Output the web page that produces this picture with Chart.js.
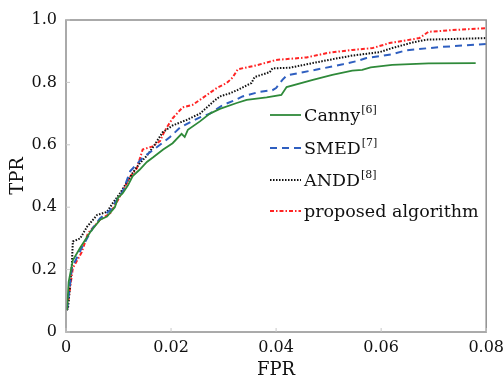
<!DOCTYPE html>
<html>
<head>
<meta charset="utf-8">
<script src="https://cdn.jsdelivr.net/npm/chart.js@4"></script>
<style>
  html, body { margin: 0; padding: 0; background: #fff; }
  #box { width: 504px; height: 379px; }
</style>
</head>
<body>
<div id="box"><canvas id="rocChart"></canvas></div>
<script>
// values
var cannyX = [0.0002, 0.0005, 0.0013, 0.0027, 0.0046, 0.0065, 0.0078, 0.0093, 0.0099, 0.0108, 0.0118, 0.0127, 0.014, 0.0154, 0.0166, 0.0185, 0.0203, 0.022, 0.0226, 0.0232, 0.0255, 0.0274, 0.0293, 0.0325, 0.0344, 0.0382, 0.041, 0.042, 0.047, 0.0507, 0.0545, 0.0564, 0.058, 0.0621, 0.069, 0.078];
var cannyY = [0.07, 0.16, 0.23, 0.27, 0.32, 0.36, 0.37, 0.40, 0.43, 0.445, 0.47, 0.50, 0.52, 0.545, 0.56, 0.585, 0.605, 0.635, 0.625, 0.648, 0.675, 0.70, 0.715, 0.734, 0.744, 0.752, 0.76, 0.785, 0.808, 0.824, 0.838, 0.84, 0.848, 0.856, 0.861, 0.862];

var smedX = [0.0002, 0.0011, 0.003, 0.0051, 0.0065, 0.0084, 0.0103, 0.0108, 0.0122, 0.0147, 0.0179, 0.0198, 0.0217, 0.0236, 0.0255, 0.0274, 0.0298, 0.0323, 0.0336, 0.0369, 0.0393, 0.040, 0.0412, 0.042, 0.0443, 0.048, 0.0527, 0.0553, 0.0572, 0.0621, 0.0648, 0.071, 0.08];
var smedY = [0.07, 0.205, 0.27, 0.333, 0.365, 0.39, 0.44, 0.45, 0.515, 0.56, 0.60, 0.625, 0.655, 0.672, 0.688, 0.70, 0.727, 0.744, 0.755, 0.77, 0.775, 0.782, 0.808, 0.822, 0.83, 0.842, 0.858, 0.868, 0.878, 0.89, 0.903, 0.913, 0.923];

var anddX = [0.0002, 0.0004, 0.0011, 0.0013, 0.0027, 0.004, 0.0059, 0.0078, 0.0089, 0.0103, 0.0116, 0.0127, 0.014, 0.0154, 0.0166, 0.0184, 0.0203, 0.023, 0.0255, 0.028, 0.0293, 0.0312, 0.0327, 0.0353, 0.0359, 0.0388, 0.0393, 0.0426, 0.0458, 0.050, 0.0545, 0.0597, 0.0621, 0.066, 0.0686, 0.08];
var anddY = [0.07, 0.08, 0.21, 0.29, 0.30, 0.337, 0.375, 0.385, 0.413, 0.445, 0.48, 0.51, 0.54, 0.565, 0.593, 0.64, 0.662, 0.68, 0.70, 0.738, 0.755, 0.765, 0.776, 0.798, 0.817, 0.833, 0.845, 0.847, 0.858, 0.872, 0.886, 0.897, 0.91, 0.928, 0.937, 0.942];

var propX = [0.0002, 0.0013, 0.003, 0.0042, 0.0065, 0.0084, 0.0099, 0.0112, 0.0122, 0.0135, 0.0146, 0.0165, 0.0179, 0.0188, 0.0203, 0.0222, 0.0241, 0.026, 0.0287, 0.0306, 0.0317, 0.0327, 0.0363, 0.040, 0.0458, 0.050, 0.0545, 0.0584, 0.0616, 0.0673, 0.069, 0.073, 0.08];
var propY = [0.07, 0.205, 0.256, 0.317, 0.36, 0.38, 0.423, 0.465, 0.497, 0.525, 0.585, 0.595, 0.612, 0.645, 0.685, 0.72, 0.728, 0.75, 0.782, 0.798, 0.815, 0.842, 0.855, 0.872, 0.88, 0.895, 0.904, 0.91, 0.926, 0.942, 0.962, 0.967, 0.974];

var legendNames = ['Canny', 'SMED', 'ANDD', 'proposed algorithm'];
var legendRefs = ['[6]', '[7]', '[8]', ''];
var xTickLabels = ['0', '0.02', '0.04', '0.06', '0.08'];
var yTickLabels = ['0', '0.2', '0.4', '0.6', '0.8', '1.0'];

var serif = "'DejaVu Serif', serif";

//zip two arrays into x/y points
function toPoints(xs, ys) {
	var pts = [];
	for (var i = 0; i < xs.length; i++) {
		pts.push({x: xs[i], y: ys[i]});
	}
	return pts;
}

//box around the plot, inward ticks and the legend with its superscripts
var framePlugin = {
	id: 'frame',
	afterDraw: function (chart) {
		var ctx = chart.ctx;
		var a = chart.chartArea;
		var xs = chart.scales.x, ys = chart.scales.y;
		ctx.save();
		ctx.strokeStyle = '#8f8f8f';
		ctx.lineWidth = 1.5;
		ctx.strokeRect(a.left, a.top, a.right - a.left, a.bottom - a.top);
		ctx.lineWidth = 1;
		ctx.strokeStyle = '#c8c8c8';
		ctx.beginPath();
		xs.ticks.forEach(function (t) {
			var px = xs.getPixelForValue(t.value);
			ctx.moveTo(px, a.bottom); ctx.lineTo(px, a.bottom - 4);
		});
		ys.ticks.forEach(function (t) {
			var py = ys.getPixelForValue(t.value);
			ctx.moveTo(a.left, py); ctx.lineTo(a.left + 4, py);
		});
		ctx.stroke();

		// legend
		var rowY = [115, 148, 180, 211];
		chart.data.datasets.forEach(function (ds, i) {
			var y = rowY[i];
			ctx.strokeStyle = ds.borderColor;
			ctx.lineWidth = ds.borderWidth;
			ctx.setLineDash(ds.borderDash || []);
			ctx.beginPath();
			ctx.moveTo(270, y); ctx.lineTo(301, y);
			ctx.stroke();
			ctx.setLineDash([]);
			ctx.fillStyle = '#111';
			ctx.textBaseline = 'middle';
			ctx.textAlign = 'left';
			ctx.font = '17.5px ' + serif;
			ctx.fillText(legendNames[i], 304, y + 1);
			if (legendRefs[i]) {
				var w = ctx.measureText(legendNames[i]).width;
				ctx.font = '11px ' + serif;
				ctx.fillText(legendRefs[i], 304 + w + 1, y - 5);
			}
		});
		ctx.restore();
	}
};

new Chart(document.getElementById('rocChart'), {
	type: 'line',
	data: {
		datasets: [{
			label: legendNames[0],
			data: toPoints(cannyX, cannyY),
			borderColor: '#2f8a3a',
			borderWidth: 1.8
		}, {
			label: legendNames[1],
			data: toPoints(smedX, smedY),
			borderColor: '#2f5fc0',
			borderWidth: 2,
			borderDash: [7, 5]
		}, {
			label: legendNames[2],
			data: toPoints(anddX, anddY),
			borderColor: '#111111',
			borderWidth: 2,
			borderDash: [1.5, 1.5]
		}, {
			label: legendNames[3],
			data: toPoints(propX, propY),
			borderColor: '#ff2424',
			borderWidth: 2,
			borderDash: [4, 2, 1.5, 2]
		}]
	},
	options: {
		responsive: true,
		maintainAspectRatio: false,
		animation: false,
		layout: { padding: { left: 0, top: 20, right: 17, bottom: 0 } },
		elements: { point: { radius: 0 }, line: { tension: 0, fill: false } },
		plugins: { legend: { display: false }, tooltip: { enabled: false } },
		scales: {
			x: {
				type: 'linear',
				min: 0, max: 0.08,
				grid: { display: false, drawTicks: false },
				border: { display: false },
				ticks: {
					stepSize: 0.02,
					padding: 0,
					color: '#111',
					font: { family: serif, size: 16, lineHeight: 2 },
					callback: function (v, i) { return xTickLabels[i]; }
				},
				title: {
					display: true, text: 'FPR', color: '#111',
					font: { family: serif, size: 18, lineHeight: 1 },
					padding: { top: 0, bottom: 0 }
				},
				afterFit: function (s) { s.height = 47; }
			},
			y: {
				type: 'linear',
				min: 0, max: 1,
				grid: { display: false, drawTicks: false },
				border: { display: false },
				ticks: {
					stepSize: 0.2,
					padding: 9,
					color: '#111',
					font: { family: serif, size: 16 },
					callback: function (v, i) { return yTickLabels[i]; }
				},
				title: {
					display: true, text: 'TPR', color: '#111',
					font: { family: serif, size: 18, lineHeight: 1 },
					padding: { top: 9.5, bottom: 0 }
				},
				afterFit: function (s) { s.width = 66; }
			}
		}
	},
	plugins: [framePlugin]
});
</script>
</body>
</html>
